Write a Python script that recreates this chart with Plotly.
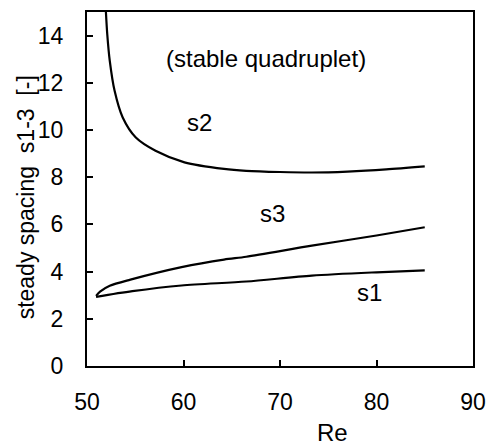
import plotly.graph_objects as go

# Steady spacing of a stable quadruplet versus Reynolds number
re_s2 = [51.96, 52.1, 52.36, 52.86, 53.7, 55.06, 57.1, 60.1, 64.2, 66.5, 70.0, 73.3, 77.0, 81.0, 85.0]
s2 = [15.0, 14.05, 12.93, 11.66, 10.53, 9.68, 9.12, 8.63, 8.35, 8.27, 8.22, 8.2, 8.24, 8.33, 8.46]

re_s3 = [50.94, 51.35, 52.36, 54.5, 59.8, 64.2, 66.5, 73.3, 80.0, 85.0]
s3 = [2.97, 3.15, 3.4, 3.66, 4.19, 4.51, 4.63, 5.1, 5.53, 5.88]

re_s1 = [50.94, 54.7, 59.8, 66.5, 73.3, 80.0, 85.0]
s1 = [2.93, 3.17, 3.41, 3.58, 3.83, 3.97, 4.05]

x_ticks = [50, 60, 70, 80, 90]
y_ticks = [0, 2, 4, 6, 8, 10, 12, 14]

FONT = "Liberation Sans, Arial, sans-serif"

fig = go.Figure()
for xs, ys in [(re_s2, s2), (re_s3, s3), (re_s1, s1)]:
    fig.add_trace(go.Scatter(
        x=xs, y=ys, mode="lines",
        line=dict(color="black", width=2.2, shape="spline", smoothing=0.8),
        showlegend=False, hoverinfo="skip",
    ))

labels = [
    ("(stable quadruplet)", 68.6, 13.05),
    ("s2", 61.7, 10.3),
    ("s3", 69.2, 6.45),
    ("s1", 79.3, 3.1),
]
annotations = [
    dict(text=t, x=x, y=y, xref="x", yref="y", showarrow=False,
         xanchor="center", yanchor="middle",
         font=dict(family=FONT, size=24, color="black"))
    for t, x, y in labels
]

W, H = 496, 445
ML, MR, MT, MB = 87, 14, 10, 79
pw, ph = W - ML - MR, H - MT - MB

# Axis titles placed by pixel position inside the page
annotations.append(dict(
    text="Re", x=(338 - ML) / pw, y=(H - MB - 433) / ph,
    xref="paper", yref="paper", showarrow=False,
    xanchor="center", yanchor="middle",
    font=dict(family=FONT, size=24, color="black"),
))
annotations.append(dict(
    text="steady spacing\u00a0\u00a0s1-3\u00a0\u00a0[-]",
    x=(25 - ML) / pw, y=(H - MB - 196) / ph,
    xref="paper", yref="paper", showarrow=False,
    xanchor="center", yanchor="middle", textangle=-90,
    font=dict(family=FONT, size=23, color="black"),
))

axis_common = dict(
    showgrid=False, zeroline=False, showline=True, linecolor="black", linewidth=2,
    mirror=True, ticks="inside", ticklen=6, tickwidth=1.5, tickcolor="black",
    tickfont=dict(family=FONT, size=23, color="black"),
)

fig.update_layout(
    width=W, height=H,
    margin=dict(l=ML, r=MR, t=MT, b=MB),
    paper_bgcolor="white", plot_bgcolor="white",
    xaxis=dict(range=[50, 90], tickvals=x_ticks, ticklabelstandoff=14, **axis_common),
    yaxis=dict(range=[0, 15], tickvals=y_ticks, ticklabelstandoff=17, **axis_common),
    annotations=annotations,
)

fig.write_html("out.html")
